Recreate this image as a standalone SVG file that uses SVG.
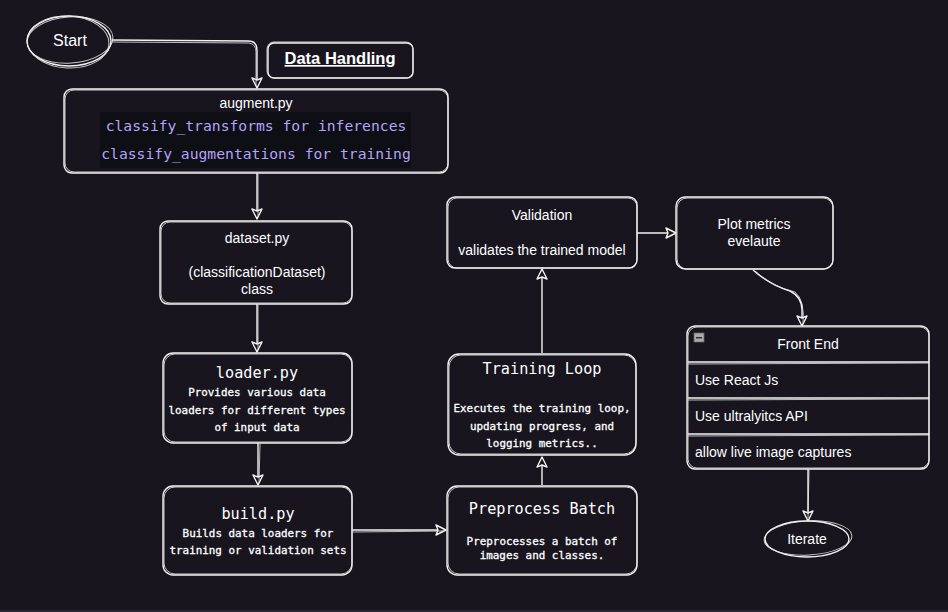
<svg xmlns="http://www.w3.org/2000/svg" width="948" height="612" viewBox="0 0 948 612">
<defs>
<style>
.bg{fill:#18151f}
.box{fill:#18151f;stroke:#f2f2f2;stroke-width:1.4}
.sk{fill:none;stroke:#e8e8e8;stroke-width:1;opacity:0.85}
.ln{fill:none;stroke:#f2f2f2;stroke-width:1.4}
.ln2{fill:none;stroke:#e8e8e8;stroke-width:1;opacity:0.8}
.t{font-family:"Liberation Sans",Arial,sans-serif;font-size:14px;fill:#ffffff;text-anchor:middle}
.tl{font-family:"Liberation Sans",Arial,sans-serif;font-size:14px;fill:#ffffff}
.m{font-family:"DejaVu Sans Mono","Liberation Mono",monospace;font-size:15.2px;fill:#ffffff;text-anchor:middle}
.ms{font-family:"DejaVu Sans Mono","Liberation Mono",monospace;font-size:10.9px;fill:#ffffff;text-anchor:middle;stroke:#ffffff;stroke-width:0.3}
.code{font-family:"DejaVu Sans Mono","Liberation Mono",monospace;font-size:14.7px;fill:#b3a4f7;text-anchor:middle}
</style>
<marker id="ah" viewBox="0 0 12 12" refX="11" refY="6" markerWidth="12" markerHeight="12" markerUnits="userSpaceOnUse" orient="auto">
<path d="M1,1 L11,6 L1,11 L3,6 Z" fill="#18151f" stroke="#f2f2f2" stroke-width="1.4" stroke-linejoin="round"/>
</marker>
</defs>
<rect class="bg" x="0" y="0" width="948" height="612"/>
<rect x="0" y="610" width="948" height="2" fill="#2a2732"/>

<g id="connectors">
<path class="ln" d="M112,40 L248,41 Q257,41 257,50 L257,88" marker-end="url(#ah)"/>
<path class="ln2" d="M113,42 L249,43 Q256,44 256,52 L256,86"/>
<path class="ln" d="M257,173 L257,219" marker-end="url(#ah)"/>
<path class="ln2" d="M258,174 L258,217"/>
<path class="ln" d="M257,304 L257,352" marker-end="url(#ah)"/>
<path class="ln2" d="M258,305 L258,350"/>
<path class="ln" d="M258,443 L258,485" marker-end="url(#ah)"/>
<path class="ln2" d="M260,444 L259,483"/>
<path class="ln" d="M352,530 L446,530" marker-end="url(#ah)"/>
<path class="ln2" d="M353,532 L444,531"/>
<path class="ln" d="M542,485 L542,457" marker-end="url(#ah)"/>
<path class="ln" d="M542,353 L542,269" marker-end="url(#ah)"/>
<path class="ln" d="M637,233 L676,233" marker-end="url(#ah)"/>
<path class="ln" d="M753,270 Q770,285 790,291 Q802,297 802,310 L802,326" marker-end="url(#ah)"/>
<path class="ln2" d="M755,271 Q772,287 795,292 Q805,300 803,324"/>
<path class="ln" d="M808,469 L808,521" marker-end="url(#ah)"/>
<path class="ln2" d="M809,470 L808,518"/>
</g>

<g id="start">
<ellipse class="box" cx="69" cy="41" rx="42" ry="25"/>
<ellipse class="sk" cx="70" cy="40" rx="43" ry="23" transform="rotate(-4 70 40)"/>
<ellipse class="sk" cx="68" cy="42" rx="41" ry="26" transform="rotate(3 68 42)"/>
<text class="t" x="70" y="46" style="font-size:16px">Start</text>
</g>

<g id="data-handling">
<rect class="box" x="268" y="43" width="145" height="35" rx="6"/>
<rect class="sk" x="267" y="42" width="146" height="36" rx="7"/>
<text class="t" x="340" y="64" style="font-weight:bold;font-size:16.5px;text-decoration:underline">Data Handling</text>
</g>

<g id="augment">
<rect class="box" x="64" y="89" width="384" height="84" rx="8"/>
<rect class="sk" x="65" y="90" width="383" height="82" rx="9"/>
<rect x="100" y="112" width="311" height="56" fill="#0e0e15"/>
<text class="t" x="256" y="108">augment.py</text>
<text class="code" x="256" y="131">classify_transforms for inferences</text>
<text class="code" x="256" y="159">classify_augmentations for training</text>
</g>

<g id="dataset">
<rect class="box" x="160" y="221" width="192" height="83" rx="8"/>
<rect class="sk" x="161" y="222" width="191" height="81" rx="9"/>
<text class="t" x="257" y="243">dataset.py</text>
<text class="t" x="257" y="277">(classificationDataset)</text>
<text class="t" x="257" y="294">class</text>
</g>

<g id="loader">
<rect class="box" x="163" y="353" width="189" height="90" rx="10"/>
<rect class="sk" x="164" y="354" width="188" height="88" rx="11"/>
<text class="m" x="257" y="378">loader.py</text>
<text class="ms" x="257" y="396">Provides various data</text>
<text class="ms" x="257" y="414">loaders for different types</text>
<text class="ms" x="257" y="431">of input data</text>
</g>

<g id="build">
<rect class="box" x="163" y="486" width="189" height="89" rx="10"/>
<rect class="sk" x="164" y="487" width="188" height="87" rx="11"/>
<text class="m" x="258" y="519">build.py</text>
<text class="ms" x="258" y="537">Builds data loaders for</text>
<text class="ms" x="258" y="554">training or validation sets</text>
</g>

<g id="preprocess">
<rect class="box" x="447" y="486" width="190" height="89" rx="10"/>
<rect class="sk" x="448" y="487" width="189" height="87" rx="11"/>
<text class="m" x="542" y="514">Preprocess Batch</text>
<text class="ms" x="542" y="545">Preprocesses a batch of</text>
<text class="ms" x="542" y="559">images and classes.</text>
</g>

<g id="training">
<rect class="box" x="448" y="354" width="188" height="101" rx="11"/>
<rect class="sk" x="449" y="355" width="187" height="99" rx="12"/>
<text class="m" x="542" y="374">Training Loop</text>
<text class="ms" x="542" y="412">Executes the training loop,</text>
<text class="ms" x="542" y="430">updating progress, and</text>
<text class="ms" x="542" y="447">logging metrics..</text>
</g>

<g id="validation">
<rect class="box" x="447" y="197" width="190" height="71" rx="8"/>
<rect class="sk" x="448" y="198" width="189" height="70" rx="9"/>
<text class="t" x="542" y="220">Validation</text>
<text class="t" x="542" y="255">validates the trained model</text>
</g>

<g id="plot-metrics">
<rect class="box" x="676" y="197" width="157" height="72" rx="9"/>
<rect class="sk" x="677" y="198" width="156" height="71" rx="10"/>
<text class="t" x="754" y="229">Plot metrics</text>
<text class="t" x="754" y="246">evelaute</text>
</g>

<g id="front-end">
<rect class="box" x="687" y="326" width="242" height="143" rx="8"/>
<rect class="sk" x="688" y="327" width="241" height="141" rx="9"/>
<path class="ln" d="M688,362 L929,362 M688,398 L929,398 M688,434 L929,434"/>
<path class="ln2" d="M688,364 L929,363 M688,400 L929,399 M688,436 L929,435"/>
<rect x="694" y="333" width="10" height="9" fill="#aaaaaa" stroke="#666" stroke-width="0.8"/>
<rect x="696" y="337" width="6" height="1.5" fill="#333"/>
<text class="t" x="808" y="349">Front End</text>
<text class="tl" x="695" y="385">Use React Js</text>
<text class="tl" x="695" y="421">Use ultralyitcs API</text>
<text class="tl" x="695" y="457">allow live image captures</text>
</g>

<g id="iterate">
<ellipse class="box" cx="807" cy="539" rx="42" ry="18"/>
<ellipse class="sk" cx="808" cy="538" rx="44" ry="17" transform="rotate(-3 808 538)"/>
<text class="t" x="807" y="544">Iterate</text>
</g>
</svg>
